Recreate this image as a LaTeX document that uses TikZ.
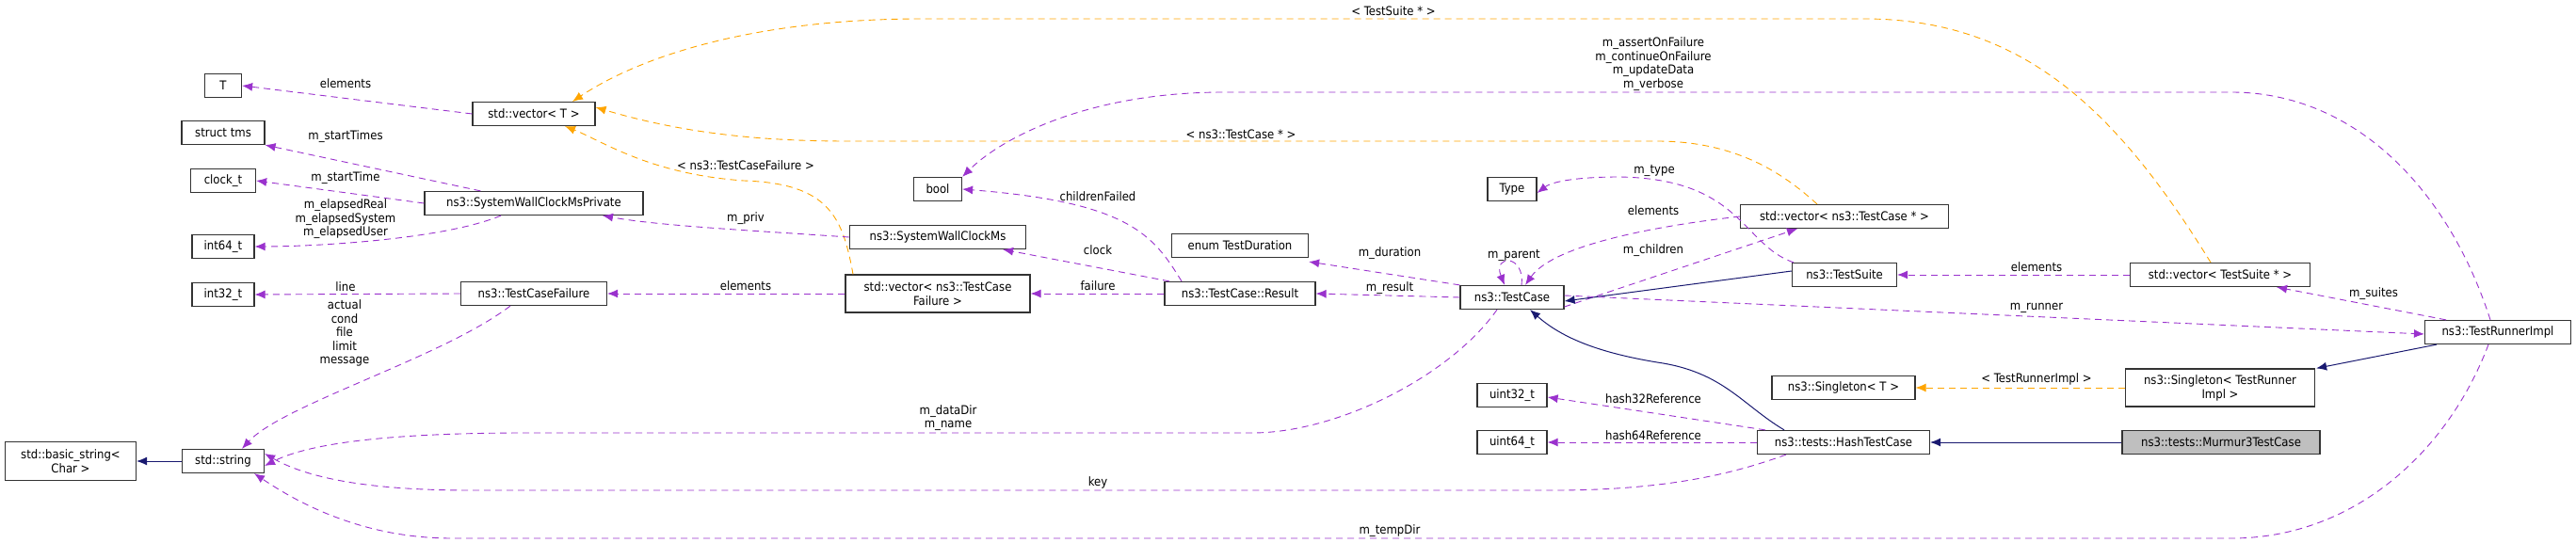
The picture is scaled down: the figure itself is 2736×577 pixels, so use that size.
\documentclass[tikz,border=0pt]{standalone}
\usepackage{fontspec}
\setmainfont{DejaVu Sans Condensed}
\usetikzlibrary{arrows.meta}
\definecolor{pur}{HTML}{9A32CD}
\definecolor{org}{HTML}{FFA500}
\definecolor{nav}{HTML}{191970}
\begin{document}
\begin{tikzpicture}[x=1pt,y=-1pt,
  box/.style={draw=black!80,line width=1.2pt,fill=white,minimum height=25pt,inner sep=2pt,font=\fontsize{13}{15}\selectfont,align=center},
  lbl/.style={font=\fontsize{13}{14.5}\selectfont,align=center,inner sep=0pt},
  use/.style={draw=pur,dashed,dash pattern=on 7pt off 5pt,line width=0.9pt,-{Latex[length=11pt,width=9pt]}},
  tpl/.style={draw=org,dashed,dash pattern=on 7pt off 5pt,line width=0.9pt,-{Latex[length=11pt,width=9pt]}},
  inh/.style={draw=nav,line width=1pt,-{Latex[length=11pt,width=9pt]}}]
\useasboundingbox (0,0) rectangle (2736,577);
% nodes
\node[box,minimum width=39pt] (T) at (237,91) {T};
\node[box,minimum width=130pt] (vecT) at (567,121) {std::vector< T >};
\node[box,minimum width=88pt] (tms) at (237,141) {struct tms};
\node[box,minimum width=69pt] (clk) at (237,192) {clock\_t};
\node[box,minimum width=232pt] (swcmp) at (567,216) {ns3::SystemWallClockMsPrivate};
\node[box,minimum width=66pt] (i64) at (237,262) {int64\_t};
\node[box,minimum width=66pt] (i32) at (237,313) {int32\_t};
\node[box,minimum width=155pt] (tcf) at (567,312) {ns3::TestCaseFailure};
\node[box,minimum width=139pt,minimum height=41pt] (bstr) at (75,490) {std::basic\_string<\\Char >};
\node[box,minimum width=87pt] (str) at (237,490) {std::string};
\node[box,minimum width=51pt] (bool) at (996,201) {bool};
\node[box,minimum width=187pt] (swcm) at (996,252) {ns3::SystemWallClockMs};
\node[box,minimum width=196pt,minimum height=40pt] (vtcf) at (996,312) {std::vector< ns3::TestCase\\Failure >};
\node[box,minimum width=145pt] (dur) at (1317,261) {enum TestDuration};
\node[box,minimum width=160pt] (res) at (1317,312) {ns3::TestCase::Result};
\node[box,minimum width=110pt] (tc) at (1606,316) {ns3::TestCase};
\node[box,minimum width=52pt] (type) at (1606,201) {Type};
\node[box,minimum width=74pt] (u32) at (1606,420) {uint32\_t};
\node[box,minimum width=74pt] (u64) at (1606,470) {uint64\_t};
\node[box,minimum width=221pt] (vtc) at (1959,230) {std::vector< ns3::TestCase * >};
\node[box,minimum width=111pt] (ts) at (1959,292) {ns3::TestSuite};
\node[box,minimum width=191pt] (vts) at (2358,292) {std::vector< TestSuite * >};
\node[box,minimum width=155pt] (tri) at (2653,353) {ns3::TestRunnerImpl};
\node[box,minimum width=201pt,minimum height=40pt] (stri) at (2358,412) {ns3::Singleton< TestRunner\\Impl >};
\node[box,minimum width=152pt] (sT) at (1958,412) {ns3::Singleton< T >};
\node[box,minimum width=183pt] (htc) at (1958,470) {ns3::tests::HashTestCase};
\node[box,minimum width=210pt,fill=black!25] (mm) at (2359,470) {ns3::tests::Murmur3TestCase};
% edges
\draw[use] (vecT.west) -- (T.east);
\draw[use] (swcmp.north west)++(60,0) coordinate (a1) -- (tms.south east);
\draw[use] (a1) (swcmp.west) -- (clk.east);
\draw[use] ([xshift=-35pt]swcmp.south) .. controls (470,255) and (330,262) .. (i64.east);
\draw[use] (tcf.west) -- (i32.east);
\draw[use] ([xshift=-25pt]tcf.south) .. controls (470,380) and (300,430) .. ([xshift=20pt]str.north);
\draw[inh] (str.west) -- (bstr.east);
\draw[use] (vtcf.west) -- (tcf.east);
\draw[tpl] ([xshift=-90pt]vtcf.north) .. controls (895,230) and (880,195) .. (790,192) .. controls (690,185) and (640,150) .. ([xshift=33pt]vecT.south);
\draw[use] (swcm.west) .. controls (800,245) and (700,240) .. ([xshift=73pt]swcmp.south);
\draw[use] ([xshift=-62pt]res.north) .. controls (1225,250) and (1200,215) .. (bool.east);
\draw[use] ([xshift=-75pt]res.north) -- ([xshift=-25pt]swcm.south east);
\draw[use] (res.west) -- (vtcf.east);
\draw[use] (tc.north west) -- ([yshift=-4pt]dur.south east);
\draw[use] (tc.west) -- (res.east);
\draw[use] ([xshift=10pt]tc.north) .. controls (1620,270) and (1585,270) .. ([xshift=-8pt]tc.north);
\draw[use] ([xshift=-16pt]tc.south) .. controls (1540,400) and (1420,460) .. (1330,460) -- (560,460) .. controls (420,460) and (330,470) .. ([yshift=-5pt]str.east);
\draw[tpl] ([xshift=-29pt]vtc.north) .. controls (1900,190) and (1850,150) .. (1760,150) -- (900,150) .. controls (800,150) and (720,140) .. ([yshift=7pt]vecT.east);
\draw[use] (vtc.west) .. controls (1760,240) and (1650,260) .. ([xshift=14pt]tc.north);
\draw[use] ([xshift=-54pt]ts.north) .. controls (1850,260) and (1850,190) .. (1720,188) .. controls (1680,188) and (1650,192) .. ([yshift=-4pt]type.east);
\draw[use] ([yshift=-10pt]tc.east) -- ([xshift=-50pt]vtc.south);
\draw[inh] ([yshift=4pt]ts.west) -- ([yshift=-4pt]tc.east);
\draw[use] (vts.west) -- (ts.east);
\draw[tpl] ([xshift=-10pt]vts.north) .. controls (2250,120) and (2150,20) .. (1980,20) -- (980,20) .. controls (800,20) and (680,60) .. ([xshift=41pt]vecT.north);
\draw[use] ([xshift=-8pt]tri.north) .. controls (2600,200) and (2500,98) .. (2370,98) -- (1300,98) .. controls (1150,98) and (1060,150) .. (bool.north east);
\draw[use] ([yshift=2pt]tc.east) -- ([yshift=-2pt]tri.west);
\draw[use] ([xshift=-55pt]tri.north) -- ([xshift=60pt]vts.south);
\draw[inh] ([xshift=-65pt]tri.south) -- ([xshift=1pt]stri.north east);
\draw[tpl] (stri.west) -- (sT.east);
\draw[inh] ([xshift=-63pt]htc.north) .. controls (1850,430) and (1830,395) .. (1760,385) .. controls (1700,375) and (1660,360) .. ([xshift=19pt]tc.south);
\draw[use] ([xshift=-83pt]htc.north) -- ([yshift=-2pt]u32.east);
\draw[use] (htc.west) -- (u64.east);
\draw[use] ([xshift=-61pt]htc.south) .. controls (1850,500) and (1780,521) .. (1650,521) -- (500,521) .. controls (400,521) and (330,510) .. ([yshift=8pt]str.east);
\draw[use] ([xshift=-10pt]tri.south) .. controls (2600,480) and (2500,572) .. (2370,572) -- (480,572) .. controls (380,572) and (310,530) .. ([xshift=33pt]str.south);
\draw[inh] (mm.west) -- (htc.east);
% labels
\node[lbl] (l1) at (367,89) {elements};
\node[lbl] (l2) at (367,145) {m\_startTimes};
\node[lbl] (l3) at (367,189) {m\_startTime};
\node[lbl] (l4) at (367,233) {m\_elapsedReal\\m\_elapsedSystem\\m\_elapsedUser};
\node[lbl] (l5) at (367,305) {line};
\node[lbl] (l6) at (366,354) {actual\\cond\\file\\limit\\message};
\node[lbl] (l7) at (792,176) {< ns3::TestCaseFailure >};
\node[lbl] (l8) at (792,232) {m\_priv};
\node[lbl] (l9) at (792,304) {elements};
\node[lbl] (l10) at (1480,12) {< TestSuite * >};
\node[lbl] (l11) at (1756,68) {m\_assertOnFailure\\m\_continueOnFailure\\m\_updateData\\m\_verbose};
\node[lbl] (l12) at (1318,143) {< ns3::TestCase * >};
\node[lbl] (l13) at (1166,209) {childrenFailed};
\node[lbl] (l14) at (1166,266) {clock};
\node[lbl] (l15) at (1166,304) {failure};
\node[lbl] (l16) at (1476,269) {m\_duration};
\node[lbl] (l17) at (1476,306) {m\_result};
\node[lbl] (l18) at (1608,271) {m\_parent};
\node[lbl] (l19) at (1757,181) {m\_type};
\node[lbl] (l20) at (1756,224) {elements};
\node[lbl] (l21) at (1756,266) {m\_children};
\node[lbl] (l22) at (1007,444) {m\_dataDir\\m\_name};
\node[lbl] (l23) at (1756,424) {hash32Reference};
\node[lbl] (l24) at (1756,463) {hash64Reference};
\node[lbl] (l25) at (1166,513) {key};
\node[lbl] (l26) at (1476,564) {m\_tempDir};
\node[lbl] (l27) at (2163,284) {elements};
\node[lbl] (l28) at (2521,312) {m\_suites};
\node[lbl] (l29) at (2163,327) {m\_runner};
\node[lbl] (l30) at (2163,403) {< TestRunnerImpl >};
\end{tikzpicture}
\end{document}
